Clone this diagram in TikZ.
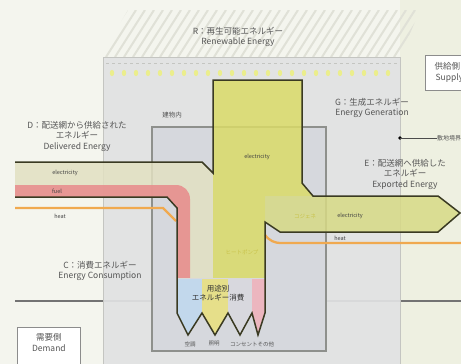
\documentclass[tikz,border=0pt]{standalone}
\usepackage{fontspec}
\setmainfont{Noto Sans CJK JP}
\definecolor{bgc}{HTML}{F4F5EE}
\definecolor{bgr}{HTML}{EEF0E1}
\definecolor{hatchc}{HTML}{E0E1D7}
\definecolor{outerc}{HTML}{E1E2E3}
\definecolor{outerl}{HTML}{C4C5C1}
\definecolor{innerc}{HTML}{D6D8DD}
\definecolor{innerl}{HTML}{8E908C}
\definecolor{dotc}{HTML}{EBEE8C}
\definecolor{yelc}{HTML}{DADB68}
\definecolor{expc}{HTML}{D7DA86}
\definecolor{beigec}{HTML}{E2E1C2}
\definecolor{pinkc}{HTML}{E88A8B}
\definecolor{orangec}{HTML}{F0A94F}
\definecolor{outc}{HTML}{3A3A22}
\definecolor{bluec}{HTML}{C2D8EC}
\definecolor{yel2c}{HTML}{E6DF8A}
\definecolor{grayc}{HTML}{D8D8DE}
\definecolor{pink2c}{HTML}{ECB6BF}
\definecolor{txtc}{HTML}{555555}
\definecolor{paletxt}{HTML}{C8C24A}
\tikzset{
  biglbl/.style={text=txtc, font=\fontsize{8.5}{10.5}\selectfont, align=center, inner sep=0pt},
  flowlbl/.style={text=black!75, font=\fontsize{5.5}{6}\selectfont, inner sep=0pt},
  palelbl/.style={text=paletxt, font=\fontsize{5.5}{6}\selectfont, inner sep=0pt},
  boxlbl/.style={draw=black!45, fill=white, line width=0.8pt, text=txtc, font=\fontsize{8.5}{11}\selectfont, align=center},
  outline/.style={draw=outc, line width=1.5pt, line join=miter},
  heatline/.style={draw=orangec, line width=2.3pt},
  sepline/.style={draw=black!55, line width=1.1pt},
}
\begin{document}
\begin{tikzpicture}[x=1pt,y=-1pt]
\useasboundingbox (0,0) rectangle (461,364);
% background
\fill[bgc] (0,0) rectangle (461,364);
\fill[bgr] (400,0) rectangle (461,364);
% hatched sky
\begin{scope}
\clip (100,57)--(128,10)--(420,10)--(400,57)--cycle;
\foreach \i in {0,...,42} \draw[hatchc, line width=2pt] (70+\i*9,57) -- ++(30,-47);
\end{scope}
% separator line behind boxes
\draw[sepline] (15,301) -- (461,301);
% outer site box
\filldraw[fill=outerc, draw=outerl, line width=0.8pt, fill opacity=0.92] (103,57) rectangle (400,372);
\draw[outerl, line width=0.8pt] (103,57) rectangle (400,372);
\draw[sepline] (15,301) -- (103,301);
\draw[outerl, dashed, line width=0.6pt] (106,63) -- (397,63);
\foreach \x in {112,124,...,392} \fill[dotc] (\x,73) ellipse (2.2 and 3.2);
% inner building box
\filldraw[fill=innerc, draw=innerl, line width=1.1pt] (152,127) rectangle (326,351);
% flows
\begin{scope}[fill opacity=0.85]
\fill[beigec] (15,162)--(202,162)--(213,173)--(213,278)--(177,278)--(177,208)--(167,197)--(15,197)--cycle;
\fill[pinkc] (15,185)--(176,185) .. controls (184,185) and (190,191) .. (190,199)--(190,278)--(177,278)--(177,208)--(167,197)--(15,197)--cycle;
\fill[yelc] (213,80)--(302,80)--(302,183)--(313,196)--(265,196)--(265,278)--(213,278)--cycle;
\fill[expc] (265,196)--(438,196)--(460,213)--(438,232)--(280,232)--(265,222)--cycle;
\end{scope}
% demand band
\fill[bluec] (177,278) rectangle (202,313);
\fill[yel2c] (202,278) rectangle (228,313);
\fill[grayc] (228,278) rectangle (252,313);
\fill[pink2c] (252,278) rectangle (265,313);
\fill[bluec] (177,313)--(188,335)--(202,313)--cycle;
\fill[yel2c] (202,313)--(215,335)--(228,313)--cycle;
\fill[grayc] (228,313)--(240,335)--(252,313)--cycle;
\fill[pink2c] (252,313)--(258,335)--(265,313)--cycle;
\draw[white!85!black, line width=0.4pt] (177,278) -- (265,278);
% heat lines
\draw[heatline] (15,208) -- (163,208) -- (176,221);
\draw[heatline] (265,235) .. controls (270,241) and (274,243) .. (282,243) -- (461,243);
% main outline
\draw[outline] (15,162)--(202,162)--(213,173)--(213,80)--(302,80)--(302,183)--(313,196)--(438,196)--(460,213)--(438,232)--(280,232)--(265,222)--(265,313)
  --(258,335)--(252,313)--(240,335)--(228,313)--(215,335)--(202,313)--(188,335)--(177,313)--(177,208)--(167,197)--(15,197);
% labels
\node[biglbl] (rlbl) at (238,37) {R：再生可能エネルギー\\Renewable Energy};
\node[biglbl] (glbl) at (372,108) {G：生成エネルギー\\Energy Generation};
\node[biglbl] (dlbl) at (77,136) {D：配送網から供給された\\エネルギー\\Delivered Energy};
\node[biglbl] (elbl) at (405,174) {E：配送網へ供給した\\エネルギー\\Exported Energy};
\node[biglbl] (clbl) at (100,271) {C：消費エネルギー\\Energy Consumption};
\node[boxlbl, minimum width=48pt, minimum height=35pt, anchor=north west] (supply) at (425,55) {\hspace*{-4pt}供給側\\Supply};
\node[boxlbl, minimum width=63pt, minimum height=40pt, anchor=north west] (demand) at (17,327) {需要側\\Demand\\[-2pt]};
\node[text=txtc, font=\fontsize{6.5}{7}\selectfont, inner sep=0pt] (bldg) at (172,115) {建物内};
\node[text=txtc, font=\fontsize{6}{7}\selectfont, inner sep=0pt, anchor=west] (site) at (437,138) {敷地境界};
\fill[black] (400,138) circle (1.8pt) coordinate (sitedot);
\draw[black!70, line width=0.6pt] (sitedot) -- (site.west);
\node[flowlbl] (el1) at (65,173) {electricity};
\node[flowlbl] (fu1) at (57,191) {fuel};
\node[flowlbl] (he1) at (60,216) {heat};
\node[flowlbl] (el2) at (257,157) {electricity};
\node[flowlbl] (el3) at (350,216) {electricity};
\node[flowlbl] (he2) at (340,238) {heat};
\node[palelbl] (cg) at (305,216) {コジェネ};
\node[palelbl] (hp) at (242,252) {ヒートポンプ};
\node[text=black!80, font=\fontsize{7.5}{9.5}\selectfont, align=center, inner sep=0pt] (use) at (218,293) {用途別\\エネルギー消費};
\node[text=txtc, font=\fontsize{5.5}{6}\selectfont, inner sep=0pt] (u1) at (190,344) {空調};
\node[text=txtc, font=\fontsize{5.5}{6}\selectfont, inner sep=0pt] (u2) at (214,344) {照明};
\node[text=txtc, font=\fontsize{5.5}{6}\selectfont, inner sep=0pt] (u3) at (252,344) {コンセントその他};
\end{tikzpicture}
\end{document}
